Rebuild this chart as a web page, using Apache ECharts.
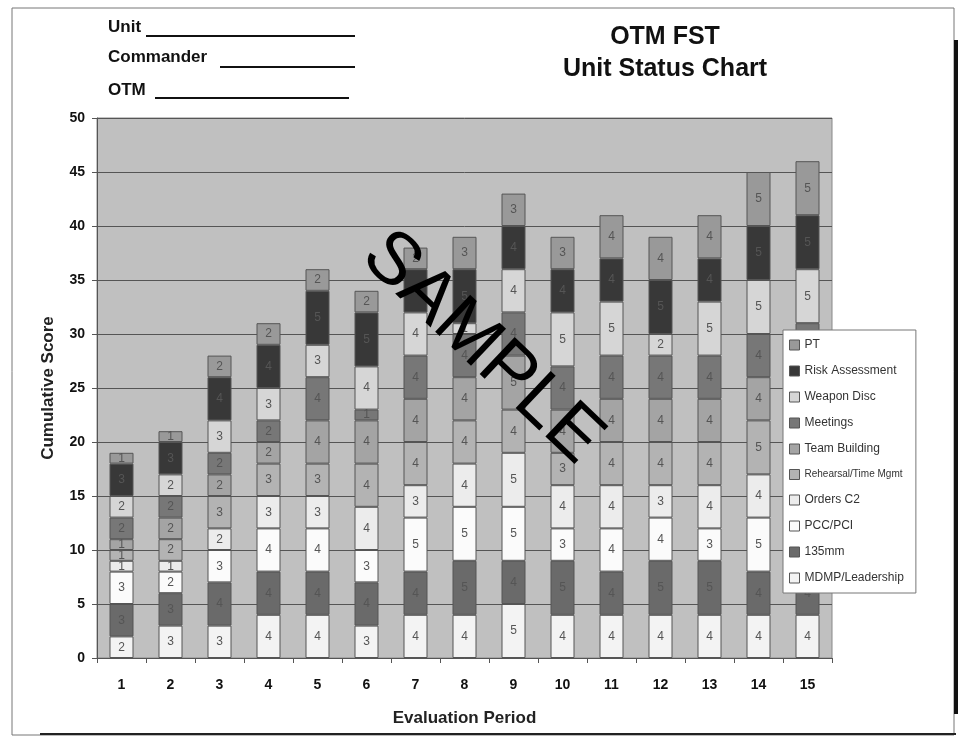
<!DOCTYPE html>
<html><head><meta charset="utf-8">
<script src="https://cdn.jsdelivr.net/npm/echarts@6/dist/echarts.min.js"></script>
<style>html,body{margin:0;padding:0;background:#fff;}#c{width:965px;height:738px;}</style>
</head><body><div id="c"></div>
<script>
const periods = ['1','2','3','4','5','6','7','8','9','10','11','12','13','14','15'];
const mdmp      = [2,3,3,4,4,3,4,4,5,4,4,4,4,4,4];
const mm135     = [3,3,4,4,4,4,4,5,4,5,4,5,5,4,4];
const pccPci    = [3,2,3,4,4,3,5,5,5,3,4,4,3,5,5];
const ordersC2  = [1,1,2,3,3,4,3,4,5,4,4,3,4,4,4];
const rehearsal = [1,2,3,3,3,4,4,4,4,3,4,4,4,5,5];
const teamBld   = [1,2,2,2,4,4,4,4,5,4,4,4,4,4,4];
const meetings  = [2,2,2,2,4,1,4,4,4,4,4,4,4,4,5];
const weaponDisc= [2,2,3,3,3,4,4,1,4,5,5,2,5,5,5];
const riskAssess= [3,3,4,4,5,5,4,5,4,4,4,5,4,5,5];
const pt        = [1,1,2,2,2,2,2,3,3,3,4,4,4,5,5];

const seriesDefs = [
  ['MDMP/Leadership', mdmp, '#f3f3f3'],
  ['135mm', mm135, '#6a6a6a'],
  ['PCC/PCI', pccPci, '#fbfbfb'],
  ['Orders C2', ordersC2, '#ececec'],
  ['Rehearsal/Time Mgmt', rehearsal, '#b3b3b3'],
  ['Team Building', teamBld, '#a4a4a4'],
  ['Meetings', meetings, '#777777'],
  ['Weapon Disc', weaponDisc, '#d6d6d6'],
  ['Risk Assessment', riskAssess, '#383838'],
  ['PT', pt, '#999999']
];
const FONT = 'Liberation Sans, Arial, sans-serif';

const chart = echarts.init(document.getElementById('c'));
const series = seriesDefs.map(([name, data, color]) => ({
  name, type: 'bar', stack: 'total', data, barWidth: 24,
  itemStyle: { color, borderColor: '#555', borderWidth: 1 },
  label: { show: true, position: 'inside', color: '#555', fontSize: 12, fontFamily: FONT },
  emphasis: { disabled: true }
}));

const legendData = seriesDefs.slice().reverse().map(([name]) => (
  name === 'Rehearsal/Time Mgmt' ? { name, textStyle: { fontSize: 10 } } : { name }
));

chart.setOption({
  animation: false,
  backgroundColor: '#ffffff',
  textStyle: { fontFamily: FONT },
  grid: { left: 97, right: 133, top: 118, bottom: 80, show: true, backgroundColor: '#c0c0c0', borderColor: '#888', borderWidth: 1 },
  legend: {
    data: legendData, orient: 'vertical', left: 783, top: 330,
    itemWidth: 10, itemHeight: 10, itemGap: 14, icon: 'rect',
    backgroundColor: '#ffffff', borderColor: '#777', borderWidth: 1,
    padding: [9, 12, 9, 6],
    itemStyle: { borderColor: '#555', borderWidth: 1 },
    textStyle: { fontSize: 12, color: '#333', fontFamily: FONT }
  },
  xAxis: {
    type: 'category', data: periods,
    name: 'Evaluation Period', nameLocation: 'middle', nameGap: 52,
    nameTextStyle: { fontSize: 17, fontWeight: 'bold', color: '#222', fontFamily: FONT },
    axisLine: { lineStyle: { color: '#555' } },
    axisTick: { show: true, lineStyle: { color: '#555' } },
    axisLabel: { fontSize: 14, fontWeight: 'bold', color: '#111', margin: 20 }
  },
  yAxis: {
    type: 'value', min: 0, max: 50, interval: 5,
    name: 'Cumulative Score', nameLocation: 'middle', nameGap: 40,
    nameTextStyle: { fontSize: 17, fontWeight: 'bold', color: '#222', fontFamily: FONT },
    axisLine: { show: true, lineStyle: { color: '#555' } },
    axisTick: { show: true, lineStyle: { color: '#555' } },
    axisLabel: { fontSize: 14, fontWeight: 'bold', color: '#111', margin: 12 },
    splitLine: { lineStyle: { color: '#555', width: 1 } }
  },
  series,
  graphic: [
    { type: 'rect', shape: { x: 12, y: 8, width: 942, height: 727 }, style: { fill: 'none', stroke: '#777', lineWidth: 1 }, z: 100, silent: true },
    { type: 'rect', shape: { x: 954, y: 40, width: 4, height: 674 }, style: { fill: '#111' }, z: 100, silent: true },
    { type: 'rect', shape: { x: 40, y: 733, width: 916, height: 2 }, style: { fill: '#222' }, z: 100, silent: true },
    { type: 'text', left: 108, top: 19, style: { text: 'Unit', font: 'bold 17px ' + FONT, fill: '#111' }, z: 100 },
    { type: 'rect', shape: { x: 146, y: 35, width: 209, height: 2 }, style: { fill: '#111' }, z: 100 },
    { type: 'text', left: 108, top: 49, style: { text: 'Commander', font: 'bold 17px ' + FONT, fill: '#111' }, z: 100 },
    { type: 'rect', shape: { x: 220, y: 66, width: 135, height: 2 }, style: { fill: '#111' }, z: 100 },
    { type: 'text', left: 108, top: 82, style: { text: 'OTM', font: 'bold 17px ' + FONT, fill: '#111' }, z: 100 },
    { type: 'rect', shape: { x: 155, y: 97, width: 194, height: 2 }, style: { fill: '#111' }, z: 100 },
    { type: 'text', x: 665, y: 25, style: { text: 'OTM FST', font: 'bold 25px ' + FONT, fill: '#111', align: 'center' }, z: 100 },
    { type: 'text', x: 665, y: 57, style: { text: 'Unit Status Chart', font: 'bold 25px ' + FONT, fill: '#111', align: 'center' }, z: 100 },
    { type: 'text', x: 482, y: 348, rotation: -0.76, style: { text: 'SAMPLE', font: '74px ' + FONT, fill: '#000', align: 'center', verticalAlign: 'middle' }, z: 100, silent: true }
  ]
});
</script></body></html>
